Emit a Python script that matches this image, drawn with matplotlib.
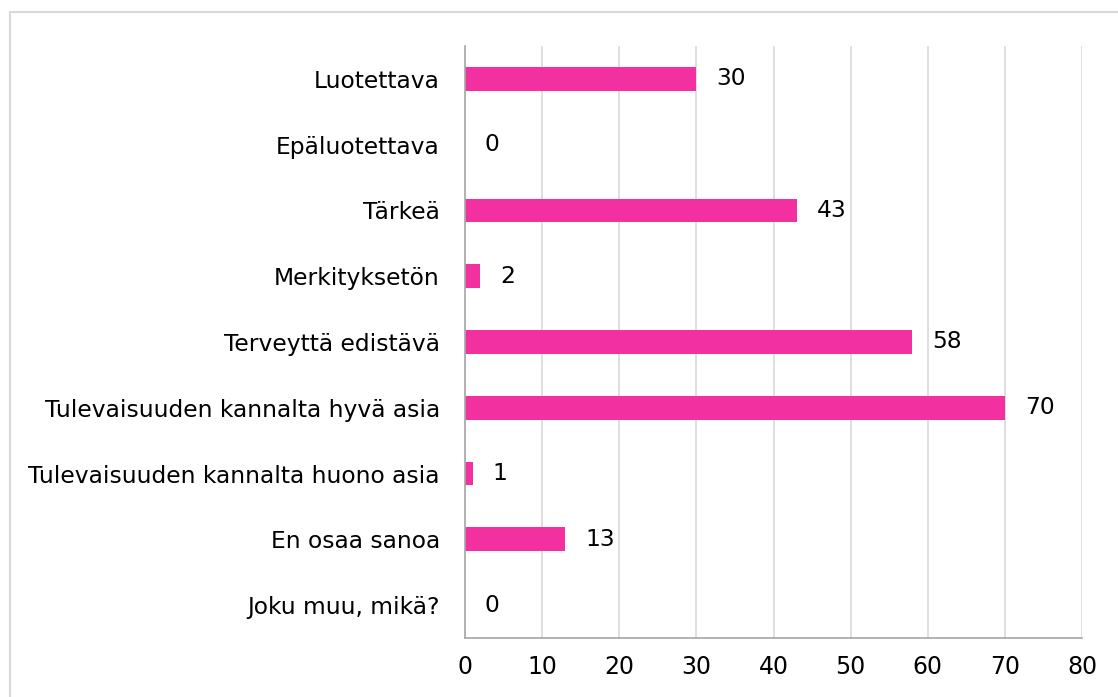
import matplotlib
matplotlib.use('Agg')
import matplotlib.pyplot as plt
from matplotlib.patches import Rectangle

# Data
categories = ['Luotettava', 'Epäluotettava', 'Tärkeä', 'Merkityksetön',
              'Terveyttä edistävä', 'Tulevaisuuden kannalta hyvä asia',
              'Tulevaisuuden kannalta huono asia', 'En osaa sanoa',
              'Joku muu, mikä?']
values = [30, 0, 43, 2, 58, 70, 1, 13, 0]
x_ticks = [0, 10, 20, 30, 40, 50, 60, 70, 80]

bar_color = '#F2309F'
grid_color = '#d9d9d9'
spine_color = '#a6a6a6'

plt.rcParams['font.family'] = 'DejaVu Sans'

fig = plt.figure(figsize=(11.18, 6.97), dpi=100)
ax = fig.add_axes([465/1118, 1 - 638/697, (1082 - 465)/1118, (638 - 46)/697])

y = list(range(len(categories)))
ax.barh(y, values, height=0.36, color=bar_color, zorder=3)

for yi, v in zip(y, values):
    ax.annotate(str(v), xy=(v, yi), xytext=(20, 0), textcoords='offset pixels',
                ha='left', va='center', fontsize=16.8, color='black')

ax.set_xlim(0, 80)
ax.set_ylim(len(categories) - 0.5, -0.5)
ax.set_yticks(y)
ax.set_yticklabels(categories, fontsize=16.8)
ax.set_xticks(x_ticks)
ax.set_xticklabels([str(t) for t in x_ticks], fontsize=17)
ax.tick_params(axis='y', length=0, pad=18)
ax.tick_params(axis='x', length=0, pad=12)

ax.grid(axis='x', color=grid_color, linewidth=1.2, zorder=0)
for s in ['top', 'right']:
    ax.spines[s].set_visible(False)
for s in ['left', 'bottom']:
    ax.spines[s].set_color(spine_color)
    ax.spines[s].set_linewidth(1.2)
    ax.spines[s].set_zorder(4)

# chart frame
fig.patches.append(Rectangle((10/1118, -0.1), 1.2, 1 - 12/697 + 0.1,
                             transform=fig.transFigure, fill=False,
                             edgecolor=grid_color, linewidth=1.5))

fig.savefig('out.png', dpi=100)
